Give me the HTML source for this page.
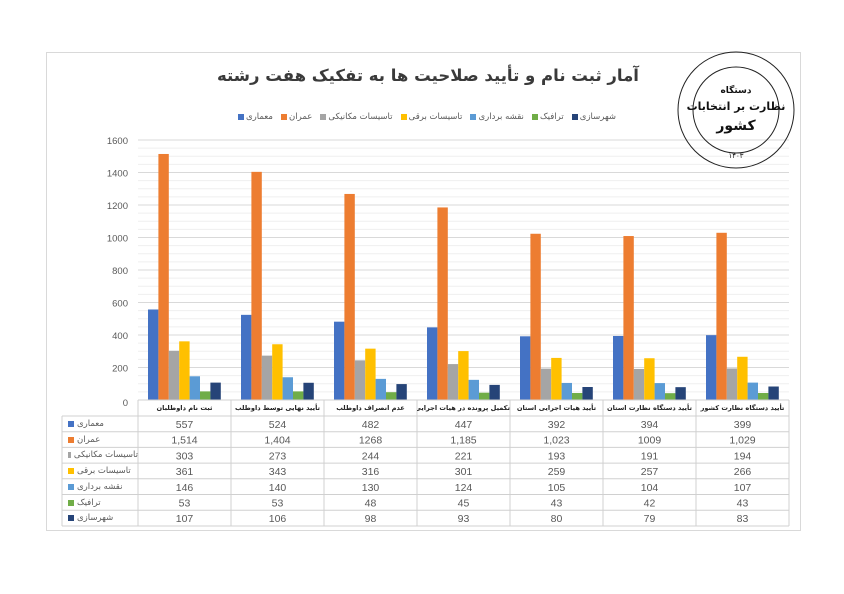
<!DOCTYPE html>
<html><head><meta charset="utf-8"><style>
body{margin:0;background:#fff;position:relative;width:844px;height:594px;overflow:hidden;}
svg{display:block;font-family:"Liberation Sans","Noto Sans CJK SC",sans-serif;}
.leg{position:absolute;top:112px;left:238px;width:378px;display:flex;justify-content:space-between;font-family:"DejaVu Sans",sans-serif;font-size:8.5px;color:#595959;}
.leg span{display:flex;align-items:center;white-space:nowrap;}
.leg i{display:inline-block;width:6px;height:6px;margin-right:2px;}
.rl{position:absolute;left:64px;width:74px;font-family:"DejaVu Sans",sans-serif;font-size:8.5px;color:#595959;display:flex;align-items:center;white-space:nowrap;height:15px;}
.rl i{display:inline-block;width:6px;height:6px;margin:0 3px 0 4px;}
.title{position:absolute;top:66px;left:178px;width:500px;text-align:center;direction:rtl;font-family:"DejaVu Sans",sans-serif;font-weight:bold;font-size:16.5px;color:#3a3a3a;white-space:nowrap;}
.cat{position:absolute;top:401px;width:93px;text-align:center;direction:rtl;font-family:"DejaVu Sans",sans-serif;font-weight:bold;font-size:6.6px;color:#222;white-space:nowrap;height:15px;line-height:15px;overflow:hidden;}
.st{position:absolute;left:678px;width:116px;text-align:center;direction:rtl;font-family:"DejaVu Sans",sans-serif;font-weight:bold;color:#111;white-space:nowrap;}
</style></head><body>
<svg id="s" width="844" height="594" xmlns="http://www.w3.org/2000/svg">
<rect x="0" y="0" width="844" height="594" fill="#fff"/>
<rect x="46.5" y="52.5" width="754" height="478" fill="#fff" stroke="#d9d9d9"/>
<g id="g"></g>
<g fill="none" stroke="#222">
<circle cx="736" cy="110" r="58" stroke-width="1"/>
<circle cx="736" cy="110" r="43" stroke-width="1"/>
</g>
</svg>
<div class="title">آمار ثبت نام و تأیید صلاحیت ها به تفکیک هفت رشته</div>
<div class="st" style="top:86px;font-size:9px">دستگاه</div>
<div class="st" style="top:100px;font-size:11px">نظارت بر انتخابات</div>
<div class="st" style="top:118px;font-size:14px">کشور</div>
<div class="st" style="top:152px;font-size:7px;font-weight:normal">۱۴۰۳</div>
<div class="leg" id="leg"></div>
<div id="hd"></div>
<script>
var g=document.getElementById('g'),h='';
var cols=['#4472c4','#ed7d31','#a5a5a5','#ffc000','#5b9bd5','#70ad47','#264478'];
var names=['معماری','عمران','تاسیسات مکانیکی','تاسیسات برقی','نقشه برداری','ترافیک','شهرسازی'];
var cats=['ثبت نام داوطلبان','تأیید نهایی توسط داوطلب','عدم انصراف داوطلب','تکمیل پرونده در هیات اجرایی','تأیید هیات اجرایی استان','تأیید دستگاه نظارت استان','تأیید دستگاه نظارت کشور'];
var d=[[557,1514,303,361,146,53,107],[524,1404,273,343,140,53,106],[482,1268,244,316,130,48,98],[447,1185,221,301,124,45,93],[392,1023,193,259,105,43,80],[394,1009,191,257,104,42,79],[399,1029,194,266,107,43,83]];
var lab=[['557','1,514','303','361','146','53','107'],['524','1,404','273','343','140','53','106'],['482','1268','244','316','130','48','98'],['447','1,185','221','301','124','45','93'],['392','1,023','193','259','105','43','80'],['394','1009','191','257','104','42','79'],['399','1,029','194','266','107','43','83']];
var k=0.1625,y0=400,L=138,W=93;
for(var v=50;v<=1600;v+=50){var y=y0-v*k;h+='<line x1="'+L+'" x2="789" y1="'+y+'" y2="'+y+'" stroke="'+(v%200==0?'#d9d9d9':'#efefef')+'" stroke-width="1"/>';}
for(var v=200;v<=1600;v+=200){h+='<text x="128" y="'+(y0-v*k+4)+'" text-anchor="end" font-size="9.5" fill="#595959">'+v+'</text>';}
h+='<text x="128" y="406" text-anchor="end" font-size="9.5" fill="#595959">0</text>';
for(var c=0;c<7;c++){for(var s=0;s<7;s++){var hh=d[c][s]*k;h+='<rect x="'+(L+10+c*W+s*10.4)+'" y="'+(y0-hh)+'" width="10.4" height="'+hh+'" fill="'+cols[s]+'"/>';}}
var rowY=[400,416,431.7,447.4,463.1,478.8,494.5,510.2,526];
for(var i=0;i<rowY.length;i++){var x1=(i==0?L:62);h+='<line x1="'+x1+'" x2="789" y1="'+rowY[i]+'" y2="'+rowY[i]+'" stroke="#d0d0d0"/>';}
h+='<line x1="62" x2="62" y1="416" y2="526" stroke="#d0d0d0"/>';
for(var c=0;c<=7;c++){var x=L+c*W;h+='<line x1="'+x+'" x2="'+x+'" y1="400" y2="526" stroke="#d0d0d0"/>';}
for(var c=0;c<7;c++){var cx=L+c*W+W/2;
for(var s=0;s<7;s++){h+='<text x="'+cx+'" y="'+(rowY[s+1]+12)+'" text-anchor="middle" font-size="10.5" fill="#595959">'+lab[c][s]+'</text>';}}
g.innerHTML=h;
var lg='';
[0,1,2,3,4,5,6].forEach(function(s){lg+='<span><i style="background:'+cols[s]+'"></i><b style="font-weight:normal;direction:rtl;unicode-bidi:isolate">'+names[s]+'</b></span>';});
document.getElementById('leg').innerHTML=lg;
var hd='';
for(var c=0;c<7;c++){hd+='<div class="cat" style="left:'+(L+c*W)+'px">'+cats[c]+'</div>';}
for(var s=0;s<7;s++){hd+='<div class="rl" style="top:'+(rowY[s+1]+0.5)+'px"><i style="background:'+cols[s]+'"></i><span style="direction:rtl;unicode-bidi:isolate">'+names[s]+'</span></div>';}
document.getElementById('hd').innerHTML=hd;
</script>
</body></html>
